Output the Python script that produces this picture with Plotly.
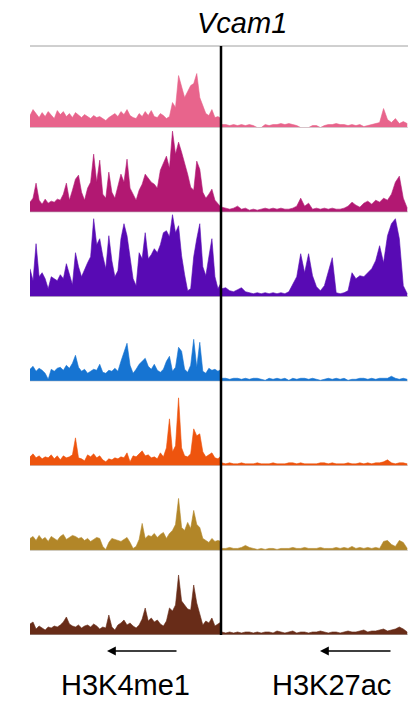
import numpy as np
import plotly.graph_objects as go
from plotly.subplots import make_subplots

# ---- data: signal heights per bin (left = H3K4me1, right = H3K27ac) ----
pink_k4 = [12, 18, 14, 10, 15, 11, 16, 12, 9, 17, 13,
           16, 11, 14, 10, 15, 12, 10, 13, 11, 9, 12, 10, 11, 9, 7,
           10, 12, 14, 11, 16, 13, 18, 12, 10, 9, 14, 11, 16, 12, 17,
           11, 10, 14, 12, 9, 11, 25, 20, 52, 40, 30, 36, 42, 44, 54,
           30, 22, 14, 12, 18, 10, 11, 9]
pink_k27 = [3, 3, 2, 3, 2, 3, 2, 3, 2, 0, 0,
            3, 2, 3, 3, 4, 3, 4, 3, 2, 0,
            0, 0, 2, 2, 0, 2, 3, 3, 4, 3,
            3, 2, 3, 2, 3, 1, 2, 3, 4, 5,
            19, 8, 5, 9, 4, 6, 4]

magenta_k4 = [10, 14, 29, 12, 8, 13, 9, 11, 10, 13, 12, 18, 29, 12, 22, 33,
              37, 20, 12, 24, 30, 58, 30, 52, 18, 14, 40, 20, 14, 26, 38, 30,
              53, 24, 18, 12, 22, 28, 38, 34, 30, 28, 24, 42, 49, 56, 44, 81,
              58, 70, 60, 50, 38, 25, 22, 51, 43, 20, 14, 18, 23, 12, 8, 5]
magenta_k27 = [5, 4, 3, 4, 6, 3, 4, 2, 3, 2, 3, 4, 3, 4, 3, 4, 3, 3, 4, 6,
               14, 6, 9, 3, 4, 3, 4, 3, 4, 3, 3, 4, 6, 10, 7, 5, 9, 11, 8, 12,
               10, 14, 12, 18, 30, 36, 14, 4]

purple_k4 = [28, 16, 53, 20, 24, 18, 8, 20, 18, 16, 22, 18, 33, 22, 12, 44,
             30, 20, 28, 34, 40, 78, 52, 58, 41, 28, 61, 36, 20, 26, 58, 73,
             61, 40, 18, 11, 44, 38, 64, 38, 42, 48, 44, 52, 64, 66, 60, 82,
             64, 71, 41, 22, 6, 8, 40, 58, 73, 30, 21, 40, 58, 20, 8, 14]
purple_k27 = [8, 9, 6, 5, 7, 9, 5, 4, 3, 4, 3, 4, 3, 4, 3, 4, 3, 5, 12, 20,
              43, 24, 43, 21, 10, 6, 11, 24, 39, 4, 3, 4, 6, 24, 18, 21, 20, 24,
              28, 36, 51, 34, 61, 73, 78, 58, 11, 3]

blue_k4 = [12, 15, 10, 13, 11, 8, 2, 12, 10, 13, 14, 11, 16, 13, 18, 26,
           14, 10, 12, 8, 10, 12, 11, 17, 9, 8, 11, 10, 13, 10, 20, 30,
           38, 16, 8, 12, 17, 20, 23, 15, 12, 17, 11, 9, 12, 20, 25, 10,
           14, 34, 30, 12, 9, 16, 42, 14, 39, 10, 8, 13, 11, 12, 10, 12]
blue_k27 = [3, 3, 2, 3, 3, 2, 3, 2, 3, 3, 2, 1, 3, 2, 3, 2, 3, 1, 3, 2, 3, 3,
            2, 3, 2, 1, 2, 3, 2, 3, 2, 3, 1, 2, 2, 3, 3, 2, 3, 2, 3, 3, 3, 5,
            3, 2, 3, 2]

orange_k4 = [9, 12, 8, 10, 7, 9, 8, 11, 7, 10, 6, 10, 8, 9, 11, 28,
             8, 7, 5, 11, 9, 12, 8, 10, 6, 4, 7, 6, 8, 7, 9, 8,
             13, 4, 10, 9, 12, 15, 10, 11, 8, 9, 7, 13, 9, 18, 47, 14,
             20, 68, 18, 10, 9, 12, 37, 30, 32, 14, 9, 11, 13, 8, 7, 10]
orange_k27 = [3, 2, 3, 2, 2, 3, 2, 2, 2, 3, 2, 2, 2, 3, 2, 2, 2, 3, 3, 2, 3, 2,
              2, 2, 2, 3, 3, 2, 3, 2, 2, 2, 3, 2, 2, 3, 2, 3, 2, 3, 3, 4, 6, 3,
              2, 3, 3, 2]

gold_k4 = [12, 14, 10, 15, 11, 13, 9, 14, 12, 10, 14, 16, 11, 13, 15, 14,
           12, 13, 10, 12, 9, 11, 13, 12, 4, 1, 8, 12, 11, 10, 9, 11,
           13, 8, 2, 4, 11, 27, 12, 15, 14, 17, 13, 16, 18, 12, 17, 20,
           26, 52, 23, 20, 28, 22, 40, 26, 23, 12, 10, 8, 12, 9, 10, 9]
gold_k27 = [2, 2, 3, 2, 2, 3, 5, 3, 2, 1, 2, 1, 2, 2, 1, 2, 2, 2, 3, 2, 2, 3,
            2, 2, 2, 3, 2, 2, 2, 3, 2, 3, 2, 4, 2, 3, 2, 3, 2, 3, 2, 9, 10, 6,
            4, 10, 8, 2]

brown_k4 = [11, 13, 6, 9, 7, 5, 8, 7, 9, 8, 10, 13, 18, 11, 9, 8,
            10, 7, 9, 10, 8, 11, 9, 6, 8, 7, 20, 8, 5, 10, 12, 15,
            10, 12, 9, 7, 10, 16, 27, 14, 17, 13, 15, 11, 9, 14, 27, 24,
            30, 60, 34, 30, 26, 25, 50, 32, 20, 10, 14, 12, 17, 9, 11, 13]
brown_k27 = [3, 2, 3, 2, 3, 2, 3, 3, 2, 3, 2, 3, 3, 2, 4, 3, 2, 3, 4, 2, 3, 3,
             2, 3, 3, 4, 3, 2, 3, 3, 2, 3, 4, 3, 3, 4, 5, 3, 4, 4, 5, 6, 4, 5,
             6, 8, 6, 3]

tracks = [
    ("#e8648c", pink_k4, pink_k27),
    ("#b21872", magenta_k4, magenta_k27),
    ("#580ab4", purple_k4, purple_k27),
    ("#1674d2", blue_k4, blue_k27),
    ("#ee540e", orange_k4, orange_k27),
    ("#b28628", gold_k4, gold_k27),
    ("#682c18", brown_k4, brown_k27),
]
gene = "Vcam1"
mark_labels = ["H3K4me1", "H3K27ac"]

W, H = 408, 704
ML, MR, MT, MB = 30, 0, 43, 69
nrows = len(tracks)
plot_h = H - MT - MB
row_h = plot_h / nrows
left_w = 191.0
right_w = 187.0
xmax = 1 + right_w / left_w

fig = make_subplots(rows=nrows, cols=1, vertical_spacing=0, shared_xaxes=False)

for i, (col, left, right) in enumerate(tracks):
    r = i + 1
    xl = np.linspace(0, 1, len(left))
    xr = np.linspace(1.004, xmax - 0.004, len(right))
    for xs, ys in ((xl, left), (xr, right)):
        fig.add_trace(go.Scatter(x=xs, y=ys, mode="lines", fill="tozeroy",
                                 line=dict(color=col, width=0.6),
                                 fillcolor=col, showlegend=False,
                                 hoverinfo="skip"), row=r, col=1)
    fig.update_xaxes(range=[0, xmax], visible=False, row=r, col=1)
    fig.update_yaxes(range=[0, row_h], visible=False, row=r, col=1)
    yref = "y" if r == 1 else f"y{r}"
    fig.add_shape(type="line", xref="paper", yref=yref, x0=0, x1=1, y0=0, y1=0,
                  line=dict(color="#b0b0b0", width=1), layer="above")

# top grey rule and central divider
top_y = (H - MB - 46) / plot_h
split_x = left_w / (left_w + right_w)
fig.add_shape(type="line", xref="paper", yref="paper", x0=0, x1=1, y0=top_y, y1=top_y,
              line=dict(color="#a0a0a0", width=1))
fig.add_shape(type="line", xref="paper", yref="paper", x0=split_x, x1=split_x, y0=0, y1=top_y,
              line=dict(color="black", width=2.5))

def px_x(p):
    return (p - ML) / (W - ML - MR)

def px_y(p):
    return (H - MB - p) / plot_h

annotations = [
    dict(text=f"<i>{gene}</i>", x=px_x(242), y=px_y(23), xref="paper", yref="paper",
         showarrow=False, font=dict(size=29, color="black", family="Liberation Sans, Arial"),
         xanchor="center", yanchor="middle"),
]
for lbl, cx, tip, tail in ((mark_labels[0], 125, 107, 178), (mark_labels[1], 331, 320, 392)):
    annotations.append(dict(text=lbl, x=px_x(cx), y=px_y(685), xref="paper", yref="paper",
                            showarrow=False, xanchor="center", yanchor="middle",
                            font=dict(size=29, color="black", family="Liberation Sans, Arial")))
    annotations.append(dict(text="", x=px_x(tip), y=px_y(651), xref="paper", yref="paper",
                            showarrow=True, ax=tail - tip, ay=0, axref="pixel", ayref="pixel",
                            arrowhead=2, arrowsize=1.1, arrowwidth=1.6, arrowcolor="black",
                            standoff=0, startstandoff=0))

fig.update_layout(width=W, height=H, margin=dict(l=ML, r=MR, t=MT, b=MB),
                  paper_bgcolor="white", plot_bgcolor="white",
                  annotations=annotations, showlegend=False)

fig.write_html("out.html")
